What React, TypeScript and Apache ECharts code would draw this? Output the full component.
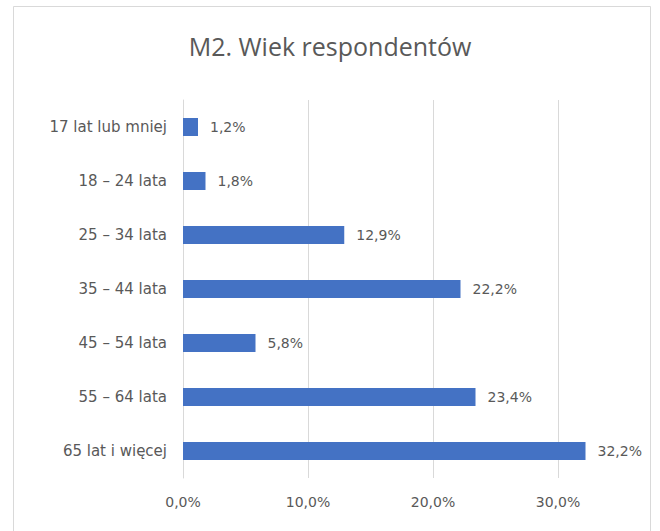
import React, { useEffect, useRef } from "react";
import * as echarts from "echarts";

const categories = [
  "17 lat lub mniej",
  "18 – 24 lata",
  "25 – 34 lata",
  "35 – 44 lata",
  "45 – 54 lata",
  "55 – 64 lata",
  "65 lat i więcej",
];
const values = [1.2, 1.8, 12.9, 22.2, 5.8, 23.4, 32.2];
const titleText = "M2. Wiek respondentów";
const axisMax = 30;
const axisInterval = 10;

const textColor = "#595959";
const labelFont = "'DejaVu Sans', 'Open Sans', sans-serif";
const titleFont = "'Open Sans', 'Noto Sans', sans-serif";

const fmt = (v: number) => v.toFixed(1).replace(".", ",") + "%";

export default function App() {
  const ref = useRef<HTMLDivElement>(null);
  useEffect(() => {
    if (!ref.current) return;
    const chart = echarts.init(ref.current, null, { renderer: "svg" });
    chart.setOption({
      animation: false,
      backgroundColor: "#ffffff",
      textStyle: { fontFamily: labelFont },
      title: {
        text: titleText,
        left: "center",
        top: 28,
        textStyle: {
          color: textColor,
          fontSize: 25,
          fontWeight: "normal",
          fontFamily: titleFont,
        },
      },
      graphic: [
        {
          type: "rect",
          shape: { x: 13.5, y: 6.5, width: 637, height: 540 },
          style: { fill: "none", stroke: "#d9d9d9", lineWidth: 1 },
          silent: true,
        },
      ],
      grid: {
        left: 183,
        right: 660 - 558,
        top: 100,
        bottom: 531 - 478,
        containLabel: false,
      },
      xAxis: {
        type: "value",
        min: 0,
        max: axisMax,
        interval: axisInterval,
        axisLine: { show: false },
        axisTick: { show: false },
        splitLine: { show: true, lineStyle: { color: "#d9d9d9", width: 1 } },
        axisLabel: {
          color: textColor,
          fontSize: 14,
          fontFamily: labelFont,
          margin: 17,
          formatter: (v: number) => fmt(v),
        },
      },
      yAxis: {
        type: "category",
        data: categories,
        inverse: true,
        axisLine: { show: true, lineStyle: { color: "#d9d9d9", width: 1 } },
        axisTick: { show: false },
        axisLabel: {
          color: textColor,
          fontSize: 15,
          fontFamily: labelFont,
          margin: 16,
        },
      },
      series: [
        {
          type: "bar",
          data: values,
          barWidth: 18,
          clip: false,
          itemStyle: { color: "#4472C4" },
          label: {
            show: true,
            position: "right",
            distance: 12,
            color: textColor,
            fontSize: 14,
            fontFamily: labelFont,
            formatter: (p: any) => fmt(p.value),
          },
        },
      ],
    });
    return () => chart.dispose();
  }, []);
  return (
    <div
      ref={ref}
      style={{ position: "absolute", left: 0, top: 0, width: 660, height: 531 }}
    />
  );
}
